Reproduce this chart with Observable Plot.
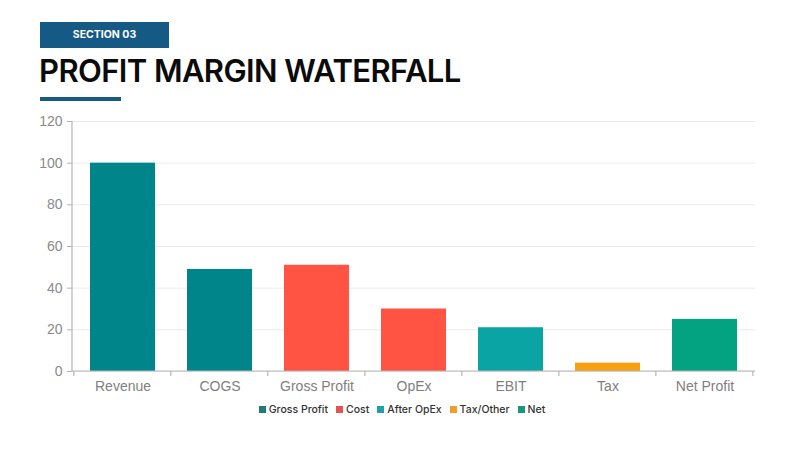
<!DOCTYPE html>
<html>
<head>
<meta charset="utf-8">
<script src="https://cdn.jsdelivr.net/npm/d3@7"></script>
<script src="https://cdn.jsdelivr.net/npm/@observablehq/plot@0.6"></script>
<style>
  html, body { margin: 0; padding: 0; background: #fff; width: 800px; height: 450px; overflow: hidden; }
  #section { position: absolute; left: 40px; top: 22px; width: 129px; height: 26px; background: #155a84;
    color: #fff; font: 700 10.5px Inter, "Liberation Sans", sans-serif; line-height: 26px; text-align: center; letter-spacing: 0; }
  #title { position: absolute; left: 39px; top: 52px; font: 600 31px Inter, "Liberation Sans", sans-serif; color: #0b0b0b; letter-spacing: -0.6px; white-space: nowrap; }
  #rule { position: absolute; left: 40px; top: 97px; width: 81px; height: 4px; background: #1a5a80; }
  #chart { position: absolute; left: 0; top: 110px; }
  #legend { position: absolute; left: 0; top: 403px; width: 800px; display: flex; justify-content: center; gap: 8px;
    font: 500 10.5px Inter, "Liberation Sans", sans-serif; color: #333; padding-left: 4px; box-sizing: border-box; }
  #legend span.item { display: inline-flex; align-items: center; gap: 3px; }
  #legend span.sw { display: inline-block; width: 7px; height: 7px; }
</style>
</head>
<body>
<div id="section">SECTION 03</div>
<div id="title">PROFIT MARGIN WATERFALL</div>
<div id="rule"></div>
<div id="chart"></div>
<div id="legend"></div>
<script>
const categories = ["Revenue", "COGS", "Gross Profit", "OpEx", "EBIT", "Tax", "Net Profit"];
const values = [100, 49, 51, 30, 21, 4, 25];
const barColors = ["#00868a", "#00868a", "#ff5343", "#ff5343", "#0aa4a4", "#f9a00e", "#03a382"];
const yTicks = [0, 20, 40, 60, 80, 100, 120];
const legendLabels = ["Gross Profit", "Cost", "After OpEx", "Tax/Other", "Net"];
const legendColors = ["#1f7a6f", "#e8524f", "#19a3a8", "#f39c2b", "#17997f"];

const data = categories.map((c, i) => ({category: c, value: values[i], color: barColors[i]}));

const axisColor = "#b5b5b5";
const pInner = 0.333, pOuter = 0.165;

function bandEdges(index, scales, values, dims) {
  const x = scales.x, y = scales.y;
  const step = x(categories[1]) - x(categories[0]);
  const bw = step * (1 - pInner);
  const g = d3.create("svg:g");
  const y0 = y(0);
  const left = dims.marginLeft, right = dims.width - dims.marginRight;
  g.append("line").attr("x1", left).attr("x2", left).attr("y1", y(120)).attr("y2", y0)
    .attr("stroke", axisColor).attr("stroke-width", 1.2);
  g.append("line").attr("x1", left).attr("x2", right).attr("y1", y0).attr("y2", y0)
    .attr("stroke", axisColor).attr("stroke-width", 1.2);
  const bounds = categories.map(c => x(c) - step * pInner / 2);
  bounds.push(x(categories[categories.length - 1]) + bw + step * pInner / 2);
  for (const b of bounds) {
    g.append("line").attr("x1", b).attr("x2", b).attr("y1", y0).attr("y2", y0 + 5)
      .attr("stroke", axisColor).attr("stroke-width", 1.2);
  }
  return g.node();
}

const chart = Plot.plot({
  width: 800,
  height: 290,
  marginLeft: 72,
  marginRight: 45,
  marginTop: 11,
  marginBottom: 29,
  style: {fontFamily: "'Liberation Sans', Arial, sans-serif", background: "transparent"},
  x: {domain: categories, paddingInner: pInner, paddingOuter: pOuter, label: null},
  y: {domain: [0, 120], label: null},
  marks: [
    Plot.gridY(yTicks, {stroke: "#ebebeb", strokeOpacity: 1}),
    Plot.barY(data, {x: "category", y: "value", fill: "color"}),
    Plot.axisY(yTicks, {label: null, tickSize: 5, tickPadding: 5, stroke: axisColor, fill: "#8a8a8a", fontSize: 14}),
    Plot.axisX({label: null, tickSize: 0, tickPadding: 10, fill: "#808080", fontSize: 14}),
    bandEdges
  ]
});
document.getElementById("chart").appendChild(chart);

const legend = document.getElementById("legend");
legendLabels.forEach((l, i) => {
  const item = document.createElement("span");
  item.className = "item";
  const sw = document.createElement("span");
  sw.className = "sw";
  sw.style.background = legendColors[i];
  item.appendChild(sw);
  item.appendChild(document.createTextNode(l));
  legend.appendChild(item);
});
</script>
</body>
</html>
